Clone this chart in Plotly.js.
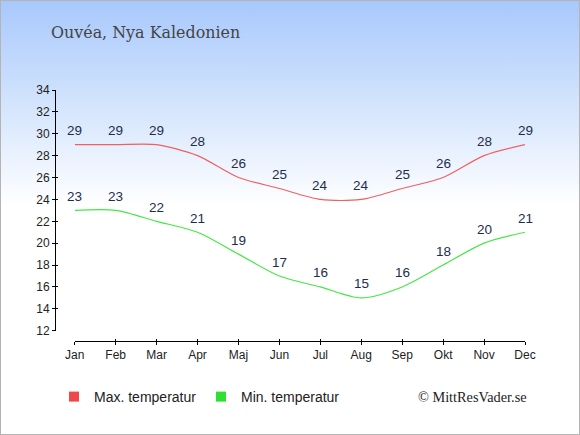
<!DOCTYPE html>
<html><head><meta charset="utf-8">
<script src="https://cdn.plot.ly/plotly-3.0.1.min.js"></script>
<style>
html,body{margin:0;padding:0;}
#wrap{position:relative;width:580px;height:435px;box-sizing:border-box;border:1px solid #b4b4b4;
background:linear-gradient(to bottom,#a8c8fc 0px,#d6e6fd 110px,#ffffff 205px,#ffffff 435px);}
#chart{position:absolute;left:-1px;top:-1px;width:580px;height:435px;}
</style></head>
<body><div id="wrap"><div id="chart"></div></div>
<script>
var months = ["Jan","Feb","Mar","Apr","Maj","Jun","Jul","Aug","Sep","Okt","Nov","Dec"];
var maxTemp = [29,29,29,28,26,25,24,24,25,26,28,29];
var minTemp = [23,23,22,21,19,17,16,15,16,18,20,21];
var yTicks = [12,14,16,18,20,22,24,26,28,30,32,34];
var title = "Ouvéa, Nya Kaledonien";
var legendMax = "Max. temperatur";
var legendMin = "Min. temperatur";
var credit = "© MittResVader.se";

var idx = months.map(function(m,i){return i;});
var labelFont = {family:"Liberation Sans, Arial, sans-serif", size:13.5, color:"#1e2d4d"};
var traces = [
 {x:idx, y:maxTemp, mode:"lines", line:{color:"#f06060", width:1.2, shape:"spline", smoothing:0.8}, showlegend:false, hoverinfo:"none"},
 {x:idx, y:minTemp, mode:"lines", line:{color:"#44e844", width:1.2, shape:"spline", smoothing:0.8}, showlegend:false, hoverinfo:"none"},
 {x:[null], y:[null], mode:"markers", name:legendMax, marker:{symbol:"square", size:10, color:"#f04848"}},
 {x:[null], y:[null], mode:"markers", name:legendMin, marker:{symbol:"square", size:10, color:"#30e030"}},
 {x:idx, y:maxTemp, xaxis:"x2", yaxis:"y2", mode:"none", showlegend:false, hoverinfo:"none"}
];
var annotations = [];
[maxTemp, minTemp].forEach(function(series){
  series.forEach(function(v,i){
    annotations.push({x:i, y:v, xref:"x", yref:"y", text:String(v), showarrow:false,
      xanchor:"center", yanchor:"middle", yshift:14, font:labelFont});
  });
});
annotations.push({text:credit, xref:"paper", yref:"paper", x:(529-55)/470, xanchor:"right",
   y:(341-397)/251, yanchor:"middle", showarrow:false,
   font:{family:"Liberation Serif, serif", size:14.3, color:"#222"}});
var axFont = {family:"Liberation Sans, Arial, sans-serif", size:12, color:"#222"};
var layout = {
 width:580, height:435,
 margin:{l:55, r:55, t:90, b:94, pad:0},
 paper_bgcolor:"rgba(0,0,0,0)", plot_bgcolor:"rgba(0,0,0,0)",
 showlegend:true,
 title:{text:title, x:51/580, xanchor:"left", y:1-32/435, yanchor:"middle",
   font:{family:"DejaVu Serif, serif", size:15.9, color:"#444"}},
 xaxis:{domain:[0.042,1], range:[0,11], tickmode:"array", tickvals:idx, ticktext:months,
   showgrid:false, zeroline:false, showline:true, linecolor:"#000", linewidth:1,
   ticks:"outside", ticklen:3, tickcolor:"#000", tickfont:axFont,
   anchor:"free", position:0, fixedrange:true},
 yaxis:{domain:[0.041,1], range:[12,34], tickmode:"array", tickvals:yTicks,
   showgrid:false, zeroline:false, showline:true, linecolor:"#000", linewidth:1,
   ticks:"outside", ticklen:3, tickcolor:"#000", tickfont:axFont,
   anchor:"free", position:0, fixedrange:true},
 xaxis2:{overlaying:"x", domain:[0.042,1], range:[0,11], tickmode:"array", tickvals:idx, showticklabels:false,
   showgrid:false, zeroline:false, showline:false, ticks:"inside", ticklen:2, tickcolor:"#000",
   anchor:"free", position:0, matches:"x"},
 yaxis2:{overlaying:"y", domain:[0.041,1], range:[12,34], tickmode:"array", tickvals:yTicks.slice(1), showticklabels:false,
   showgrid:false, zeroline:false, showline:false, ticks:"inside", ticklen:2, tickcolor:"#000",
   anchor:"free", position:0},
 legend:{orientation:"h", x:(54-55)/470, xanchor:"left", y:(341-397)/251, yanchor:"middle",
   font:{family:"Liberation Sans, Arial, sans-serif", size:14, color:"#222"},
   bgcolor:"rgba(0,0,0,0)", entrywidth:102, entrywidthmode:"pixels", itemclick:false},
 annotations:annotations
};
Plotly.newPlot("chart", traces, layout, {staticPlot:true, displayModeBar:false});
</script></body></html>
